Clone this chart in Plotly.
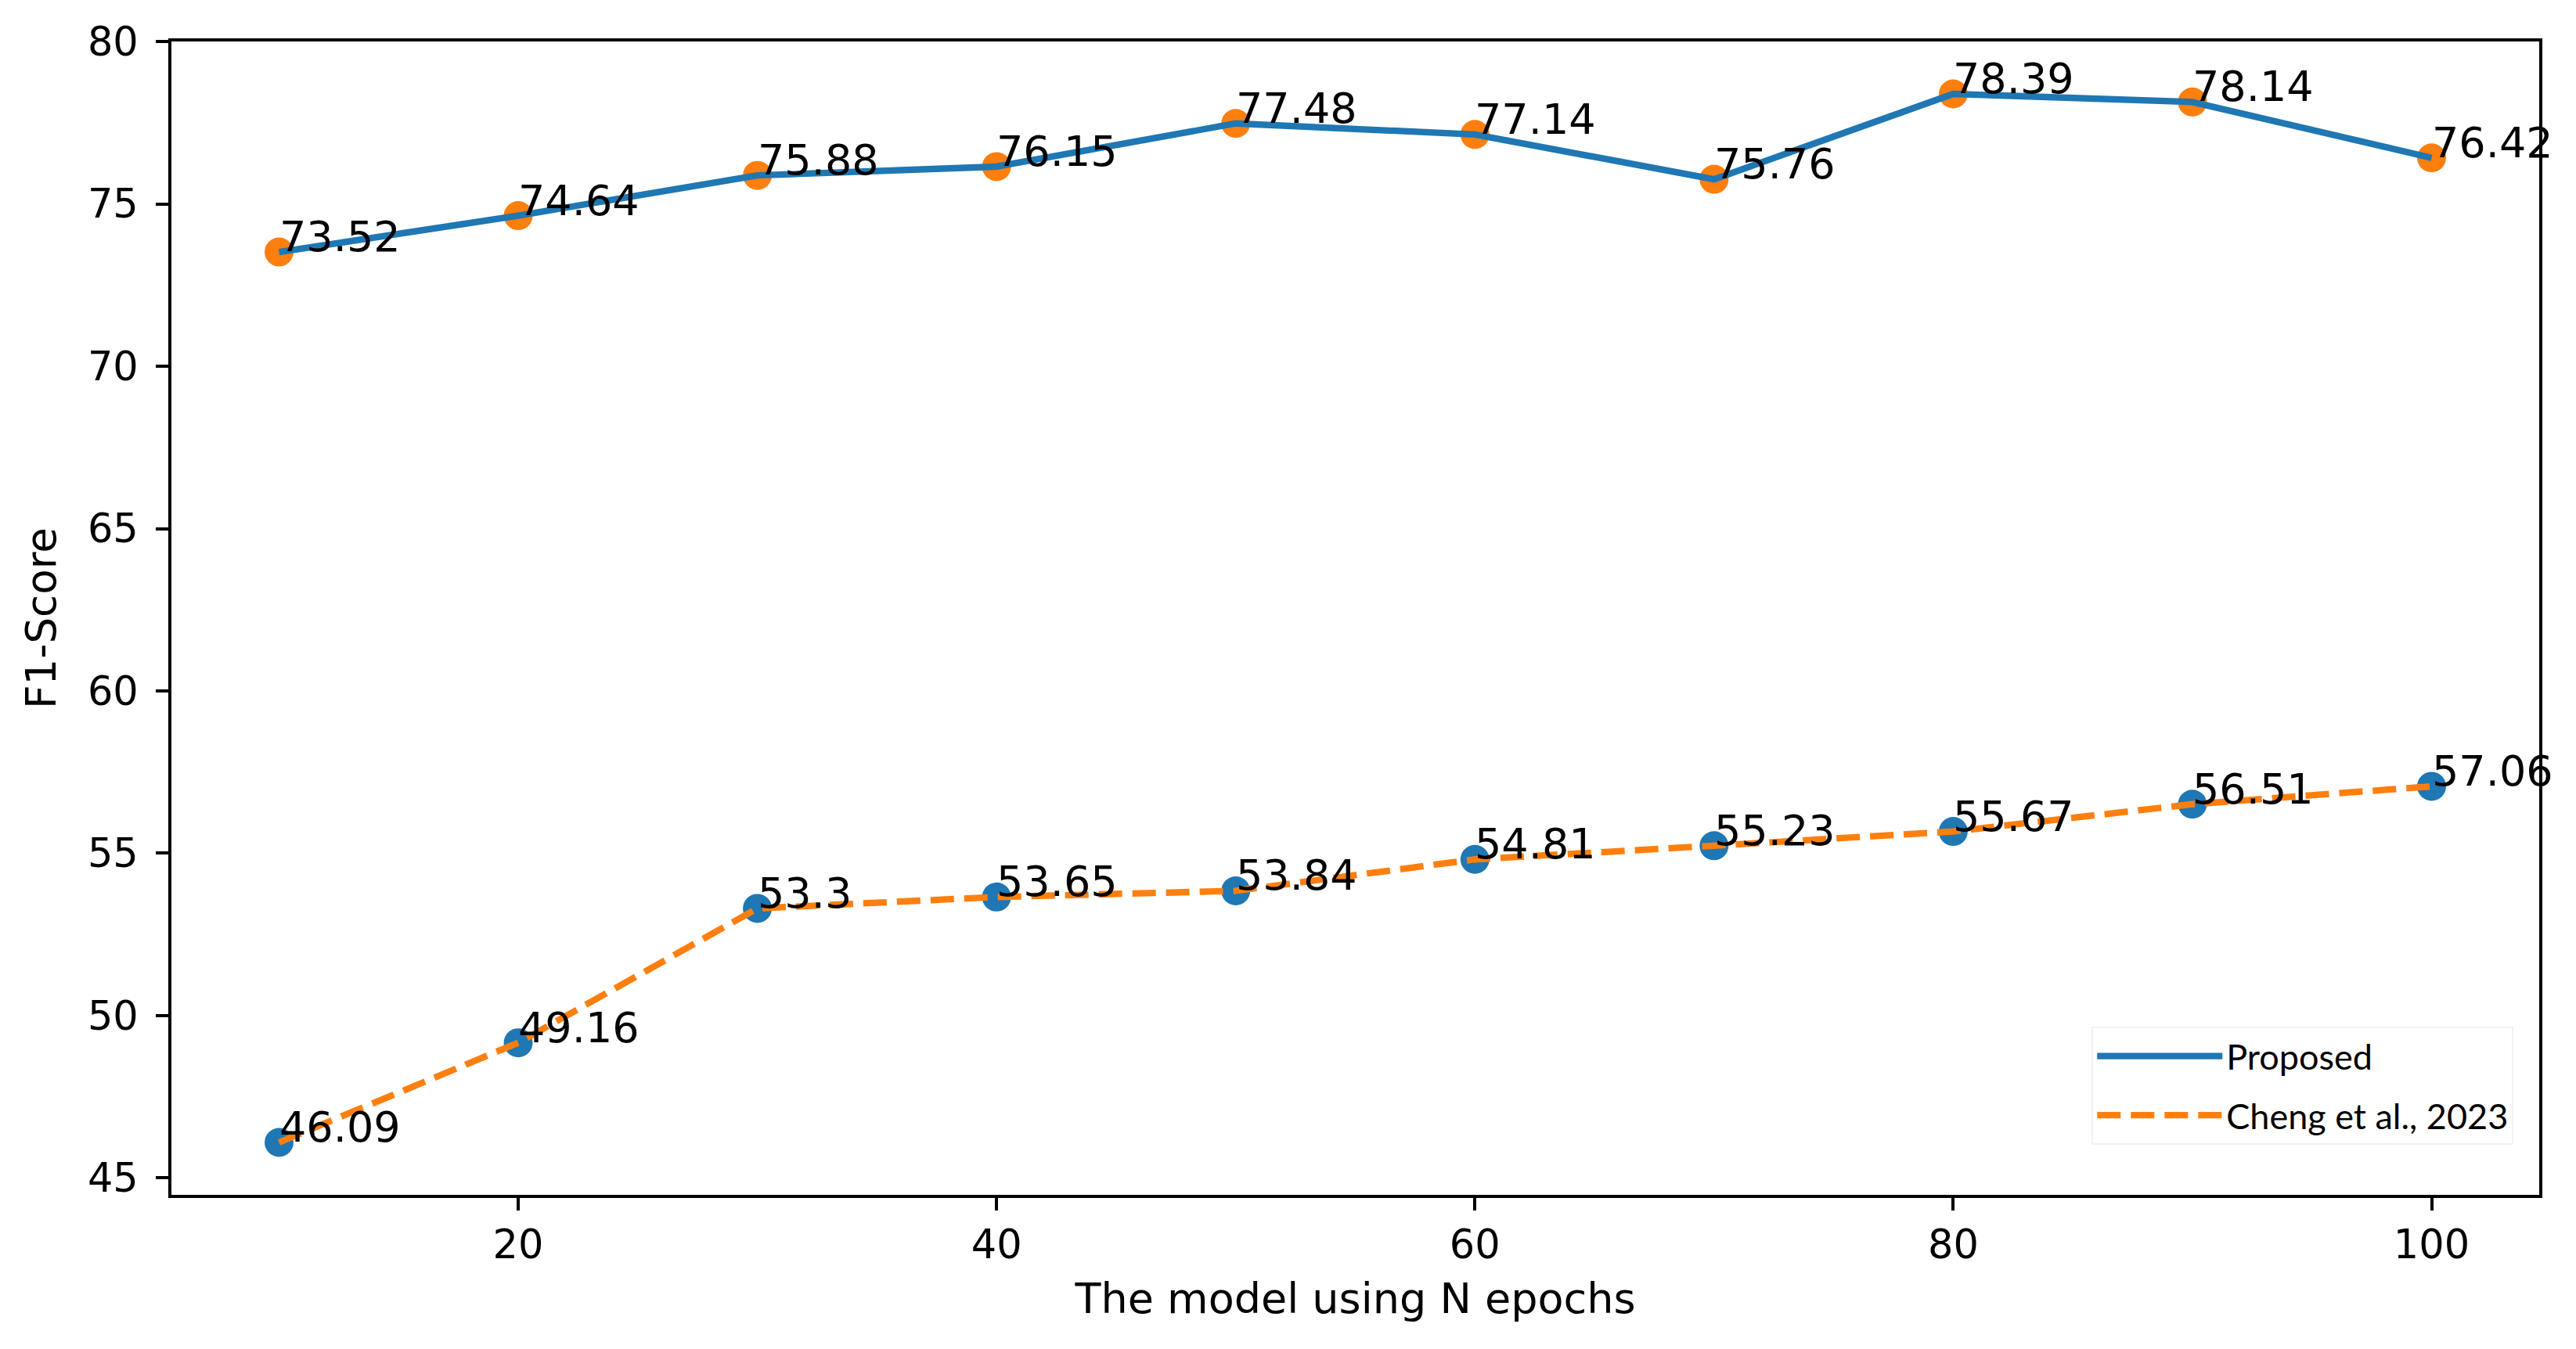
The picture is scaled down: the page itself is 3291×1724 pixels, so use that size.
import plotly.graph_objects as go

epochs = [10, 20, 30, 40, 50, 60, 70, 80, 90, 100]
proposed = [73.52, 74.64, 75.88, 76.15, 77.48, 77.14, 75.76, 78.39, 78.14, 76.42]
cheng = [46.09, 49.16, 53.3, 53.65, 53.84, 54.81, 55.23, 55.67, 56.51, 57.06]
labels = ["Proposed", "Cheng et al., 2023"]
x_ticks = [20, 40, 60, 80, 100]
y_ticks = [45, 50, 55, 60, 65, 70, 75, 80]

C0 = "#1f77b4"
C1 = "#ff7f0e"
FONT = "DejaVu Sans"

fig = go.Figure()
# scatter markers (drawn below lines)
fig.add_trace(go.Scatter(x=epochs, y=proposed, mode="markers",
                         marker=dict(color=C1, size=37, line=dict(width=0)),
                         showlegend=False, hoverinfo="skip"))
fig.add_trace(go.Scatter(x=epochs, y=cheng, mode="markers",
                         marker=dict(color=C0, size=37, line=dict(width=0)),
                         showlegend=False, hoverinfo="skip"))
# lines
fig.add_trace(go.Scatter(x=epochs, y=proposed, mode="lines", name=labels[0],
                         legendgroup="a",
                         line=dict(color=C0, width=8.3)))
fig.add_trace(go.Scatter(x=epochs, y=cheng, mode="lines", name=labels[1],
                         legendgroup="b",
                         line=dict(color=C1, width=8.3, dash="30px,13px")))

for xs, ys in ((epochs, proposed), (epochs, cheng)):
    for xv, yv in zip(xs, ys):
        fig.add_annotation(x=xv, y=yv, text=str(yv), showarrow=False,
                           xanchor="left", yanchor="bottom", yshift=-14, xshift=-2,
                           font=dict(family=FONT, size=54, color="black"))

axis_common = dict(showline=True, linecolor="black", linewidth=4, mirror=True,
                   ticks="outside", ticklen=16, tickwidth=3.5, tickcolor="black",
                   showgrid=False, zeroline=False,
                   tickfont=dict(family=FONT, size=51, color="black"))

fig.update_xaxes(range=[5.5, 104.5], tickvals=x_ticks,
                 title=dict(text="The model using N epochs", standoff=22,
                            font=dict(family=FONT, size=54, color="black")),
                 **axis_common)
fig.update_yaxes(range=[44.475, 80.005], tickvals=y_ticks, ticklabelstandoff=12,
                 title=dict(text="F1-Score", standoff=24,
                            font=dict(family=FONT, size=53, color="black")),
                 **axis_common)

fig.update_layout(
    width=3291, height=1724,
    margin=dict(l=211, r=55, t=45, b=205, autoexpand=False),
    plot_bgcolor="white", paper_bgcolor="white",
    legend=dict(x=0.811, y=0.146, xanchor="left", yanchor="top",
                bgcolor="white", bordercolor="#f2f2f2", borderwidth=2,
                font=dict(family="Lato", size=45, color="black"),
                itemwidth=160, traceorder="grouped", tracegroupgap=14),
)

fig.write_html("out.html")
